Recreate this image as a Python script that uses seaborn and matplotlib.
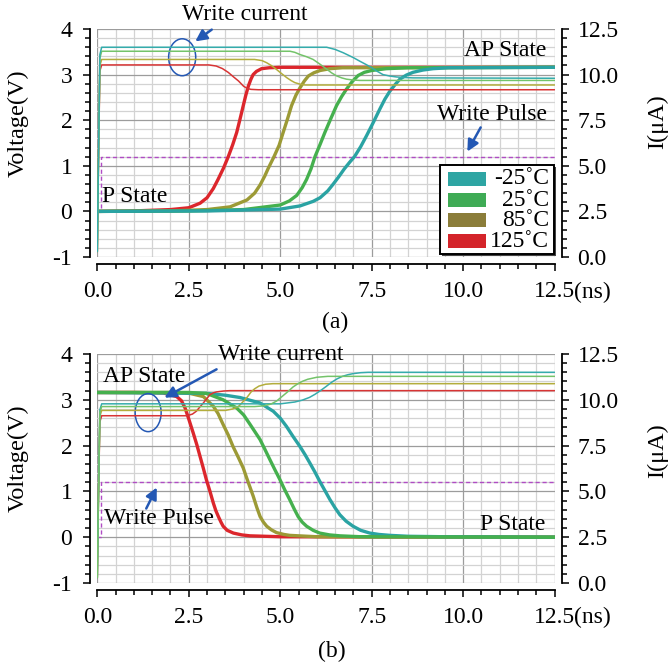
import numpy as np
import pandas as pd
import seaborn as sns
import matplotlib
matplotlib.use("Agg")
import matplotlib.pyplot as plt
from matplotlib.patches import Ellipse, Rectangle
from matplotlib.ticker import MultipleLocator, FormatStrFormatter

# ---------------- data ----------------
temps = ["-25˚C", "25˚C", "85˚C", "125˚C"]

# (a) P -> AP : voltage (V)
t_red_a = [0, 1.0, 2.0, 2.5, 2.81, 3.0, 3.17, 3.3, 3.45, 3.58, 3.7, 3.81, 3.9, 3.99, 4.06, 4.13, 4.2, 4.26, 4.35, 4.49, 4.7, 5.0, 12.5]
v_red_a = [0.0, 0.01, 0.04, 0.08, 0.18, 0.3, 0.5, 0.7, 0.95, 1.2, 1.46, 1.73, 2.02, 2.32, 2.55, 2.75, 2.9, 3.0, 3.07, 3.13, 3.15, 3.16, 3.16]
t_olive_a = [0, 2.0, 3.0, 3.63, 4.09, 4.3, 4.45, 4.58, 4.67, 4.83, 4.97, 5.08, 5.2, 5.31, 5.43, 5.54, 5.66, 5.77, 5.92, 6.09, 6.36, 6.7, 12.5]
v_olive_a = [0.0, 0.01, 0.04, 0.1, 0.25, 0.4, 0.58, 0.78, 0.94, 1.2, 1.45, 1.73, 2.03, 2.32, 2.55, 2.71, 2.86, 2.97, 3.04, 3.09, 3.13, 3.15, 3.16]
t_green_a = [0, 2.5, 4.0, 5.0, 5.25, 5.45, 5.6, 5.72, 5.84, 5.95, 6.09, 6.22, 6.38, 6.54, 6.68, 6.81, 6.97, 7.13, 7.3, 7.5, 7.9, 8.5, 12.5]
v_green_a = [0.0, 0.01, 0.04, 0.14, 0.23, 0.35, 0.52, 0.7, 0.93, 1.2, 1.47, 1.73, 2.03, 2.32, 2.52, 2.68, 2.85, 2.98, 3.05, 3.09, 3.13, 3.15, 3.16]
t_teal_a = [0, 3.0, 5.0, 5.54, 5.9, 6.09, 6.3, 6.45, 6.6, 6.75, 6.9, 7.03, 7.2, 7.36, 7.55, 7.72, 7.86, 8.0, 8.14, 8.27, 8.45, 8.63, 8.9, 9.18, 9.6, 12.5]
v_teal_a = [0.0, 0.01, 0.05, 0.12, 0.22, 0.3, 0.45, 0.6, 0.76, 0.93, 1.08, 1.2, 1.42, 1.66, 1.96, 2.24, 2.46, 2.64, 2.78, 2.9, 2.99, 3.05, 3.1, 3.13, 3.15, 3.16]

# (a) write current (uA)
ti_red_a = [0.0, 0.03, 0.07, 0.12, 3.05, 3.25, 3.42, 3.58, 3.72, 3.86, 4.0, 4.1, 4.2, 4.4, 12.5]
i_red_a = [0.3, 5.0, 10.2, 10.53, 10.53, 10.47, 10.33, 10.12, 9.88, 9.65, 9.36, 9.24, 9.19, 9.17, 9.17]
ti_olive_a = [0.0, 0.03, 0.07, 0.12, 4.3, 4.5, 4.63, 4.77, 4.9, 5.04, 5.18, 5.3, 5.4, 5.55, 5.68, 12.5]
i_olive_a = [0.3, 5.0, 10.5, 10.83, 10.83, 10.77, 10.65, 10.48, 10.28, 10.05, 9.83, 9.67, 9.56, 9.47, 9.43, 9.43]
ti_green_a = [0.0, 0.03, 0.07, 0.12, 5.27, 5.4, 5.54, 5.72, 5.9, 6.08, 6.27, 6.4, 6.54, 6.68, 6.81, 7.0, 7.18, 12.5]
i_green_a = [0.3, 5.0, 10.9, 11.28, 11.28, 11.22, 11.1, 10.98, 10.83, 10.58, 10.3, 10.1, 9.93, 9.82, 9.75, 9.7, 9.68, 9.68]
ti_teal_a = [0.0, 0.03, 0.07, 0.12, 6.27, 6.5, 6.72, 7.0, 7.18, 7.34, 7.5, 7.65, 7.81, 8.0, 8.18, 8.4, 8.63, 12.5]
i_teal_a = [0.3, 5.0, 11.1, 11.5, 11.5, 11.38, 11.2, 10.93, 10.73, 10.56, 10.38, 10.18, 10.0, 9.92, 9.87, 9.84, 9.82, 9.8]

# (b) AP -> P : voltage (V)
t_red_b = [0, 1.0, 1.8, 2.17, 2.3, 2.4, 2.5, 2.62, 2.72, 2.81, 2.9, 2.98, 3.08, 3.17, 3.24, 3.31, 3.38, 3.44, 3.55, 3.72, 3.95, 4.17, 5.0, 12.5]
v_red_b = [3.16, 3.16, 3.15, 3.07, 2.98, 2.82, 2.58, 2.28, 2.02, 1.76, 1.5, 1.26, 1.0, 0.75, 0.58, 0.45, 0.33, 0.24, 0.15, 0.09, 0.05, 0.03, 0.01, 0.0]
t_olive_b = [0, 2.0, 2.53, 2.9, 3.17, 3.3, 3.44, 3.58, 3.71, 3.85, 3.99, 4.08, 4.17, 4.26, 4.36, 4.45, 4.54, 4.63, 4.76, 4.9, 5.1, 5.26, 6.0, 12.5]
v_olive_b = [3.16, 3.16, 3.14, 3.07, 2.86, 2.7, 2.46, 2.23, 1.98, 1.75, 1.51, 1.3, 1.1, 0.9, 0.65, 0.45, 0.33, 0.24, 0.16, 0.1, 0.06, 0.04, 0.01, 0.0]
t_green_b = [0, 2.5, 2.98, 3.44, 3.81, 4.0, 4.17, 4.31, 4.45, 4.58, 4.72, 4.85, 4.99, 5.12, 5.26, 5.38, 5.49, 5.6, 5.72, 5.9, 6.08, 6.35, 6.63, 7.2, 12.5]
v_green_b = [3.16, 3.16, 3.14, 3.0, 2.82, 2.67, 2.47, 2.3, 2.13, 1.92, 1.69, 1.48, 1.26, 1.04, 0.82, 0.62, 0.45, 0.33, 0.24, 0.15, 0.09, 0.05, 0.03, 0.01, 0.0]
t_teal_b = [0, 3.0, 3.5, 3.9, 4.45, 4.81, 5.0, 5.17, 5.35, 5.54, 5.68, 5.81, 5.95, 6.08, 6.22, 6.36, 6.5, 6.63, 6.8, 6.99, 7.2, 7.45, 7.7, 8.0, 8.5, 9.5, 12.5]
v_teal_b = [3.16, 3.14, 3.1, 3.05, 2.93, 2.75, 2.6, 2.42, 2.2, 1.98, 1.8, 1.62, 1.42, 1.22, 1.02, 0.82, 0.64, 0.49, 0.35, 0.24, 0.15, 0.09, 0.06, 0.04, 0.02, 0.01, 0.0]

# (b) write current (uA)
ti_red_b = [0.0, 0.03, 0.07, 0.12, 2.45, 2.6, 2.71, 2.8, 2.9, 3.0, 3.08, 3.17, 3.26, 3.45, 3.62, 12.5]
i_red_b = [0.3, 4.5, 8.8, 9.13, 9.13, 9.22, 9.38, 9.6, 9.83, 10.08, 10.28, 10.38, 10.43, 10.48, 10.5, 10.5]
ti_olive_b = [0.0, 0.03, 0.07, 0.12, 3.5, 3.7, 3.85, 4.0, 4.1, 4.2, 4.3, 4.42, 4.6, 4.8, 12.5]
i_olive_b = [0.3, 4.5, 9.1, 9.42, 9.42, 9.5, 9.62, 9.93, 10.15, 10.42, 10.6, 10.75, 10.85, 10.88, 10.88]
ti_green_b = [0.0, 0.03, 0.07, 0.12, 4.3, 4.55, 4.75, 4.9, 5.05, 5.2, 5.35, 5.5, 5.62, 5.75, 6.0, 6.3, 12.5]
i_green_b = [0.3, 4.5, 9.3, 9.63, 9.63, 9.67, 9.77, 9.93, 10.18, 10.43, 10.7, 10.9, 11.02, 11.12, 11.23, 11.28, 11.28]
ti_teal_b = [0.0, 0.03, 0.07, 0.12, 5.0, 5.4, 5.6, 5.8, 5.95, 6.1, 6.25, 6.4, 6.55, 6.7, 6.85, 7.0, 7.2, 7.4, 12.5]
i_teal_b = [0.3, 4.5, 9.45, 9.78, 9.78, 9.88, 9.98, 10.13, 10.3, 10.5, 10.72, 10.95, 11.14, 11.28, 11.37, 11.43, 11.48, 11.5, 11.5]

# write pulse (V)
t_pulse = [0.0, 0.1, 0.1, 12.5]
v_pulse = [0.0, 0.0, 1.2, 1.2]

x_ticks = [0.0, 2.5, 5.0, 7.5, 10.0, 12.5]
v_ticks = [-1, 0, 1, 2, 3, 4]
i_ticks = [0.0, 2.5, 5.0, 7.5, 10.0, 12.5]

# ---------------- styling ----------------
sns.set_style("white")
plt.rcParams["font.family"] = "serif"
plt.rcParams["font.serif"] = ["Liberation Serif", "DejaVu Serif"]
plt.rcParams["axes.unicode_minus"] = False
for k in ["text.color", "axes.labelcolor", "xtick.color", "ytick.color", "axes.edgecolor"]:
    plt.rcParams[k] = "black"

FS = 17
C_THICK = {"teal": "#2aa3a3", "green": "#45b04e", "olive": "#9c9a36", "red": "#dc262c"}
C_THIN = {"teal": "#35acac", "green": "#74c36a", "olive": "#b3ad3c", "red": "#d83434"}
C_LEG = {"teal": "#2ea5a3", "green": "#3fab55", "olive": "#8b7d3a", "red": "#d4242a"}
BLUE = "#2458b4"
PURPLE = "#b04cc4"

W, H = 669, 665
fig = plt.figure(figsize=(W / 100, H / 100), dpi=100)


def fx(px):
    return px / W


def fy(py):
    return 1 - py / H


def make_axes(top, bottom):
    ax = fig.add_axes([fx(97.3), fy(bottom), (554.6 - 97.3) / W, (bottom - top) / H])
    ax2 = ax.twinx()
    ax.set_xlim(0, 12.5)
    ax.set_ylim(-1, 4)
    ax2.set_ylim(0, 12.5)
    ax.set_xticks(x_ticks)
    ax.set_yticks(v_ticks)
    ax2.set_yticks(i_ticks)
    ax.xaxis.set_minor_locator(MultipleLocator(0.5))
    ax.yaxis.set_minor_locator(MultipleLocator(0.2))
    ax2.yaxis.set_minor_locator(MultipleLocator(0.5))
    ax.xaxis.set_major_formatter(FormatStrFormatter("%.1f"))
    ax.yaxis.set_major_formatter(FormatStrFormatter("%d"))
    ax2.yaxis.set_major_formatter(FormatStrFormatter("%.1f"))
    ax.grid(True, which="major", color="#9c9c9c", lw=0.9)
    ax.grid(True, which="minor", color="#d3d3d3", lw=0.9)
    ax2.grid(False)
    ax.set_axisbelow(True)
    for s in ["top", "right"]:
        ax.spines[s].set_visible(False)
    for s in ["top", "left", "bottom"]:
        ax2.spines[s].set_visible(False)
    ax.spines["left"].set_position(("outward", 5))
    ax.spines["bottom"].set_position(("outward", 5))
    ax2.spines["right"].set_position(("outward", 5.5))
    for sp in [ax.spines["left"], ax.spines["bottom"], ax2.spines["right"]]:
        sp.set_linewidth(1.3)
        sp.set_color("black")
    ax.tick_params(axis="both", which="both", direction="out", bottom=True, left=True,
                   top=False, right=False, width=1.1, color="black")
    ax.tick_params(which="major", length=5, labelsize=FS)
    ax.tick_params(which="minor", length=3.5)
    ax.tick_params(axis="x", pad=7)
    ax.tick_params(axis="y", pad=8)
    ax2.tick_params(axis="y", which="both", direction="out", right=True, left=False,
                    width=1.1, color="black")
    ax2.tick_params(which="major", length=5, labelsize=FS, pad=6)
    ax2.tick_params(which="minor", length=3.5)
    ax.patch.set_facecolor("white")
    return ax, ax2


def draw(ax, ax2, volt, curr, order):
    sns.lineplot(x=t_pulse, y=v_pulse, ax=ax, color=PURPLE, lw=1.0,
                 estimator=None, sort=False, linestyle=(0, (3, 2)))
    for key in order:
        t, v = volt[key]
        sns.lineplot(x=t, y=v, ax=ax, color=C_THICK[key], lw=2.4, estimator=None, sort=False)
    for key in order:
        t, i = curr[key]
        sns.lineplot(x=t, y=i, ax=ax2, color=C_THIN[key], lw=1.1, estimator=None, sort=False)
    ax.set_xlim(0, 12.5)
    ax.set_ylim(-1, 4)
    ax2.set_ylim(0, 12.5)
    ax.set_xlabel("")
    ax.set_ylabel("")
    ax2.set_ylabel("")


ax_a, ax2_a = make_axes(29, 257)
ax_b, ax2_b = make_axes(354, 583)

draw(ax_a, ax2_a,
     {"red": (t_red_a, v_red_a), "olive": (t_olive_a, v_olive_a),
      "green": (t_green_a, v_green_a), "teal": (t_teal_a, v_teal_a)},
     {"red": (ti_red_a, i_red_a), "olive": (ti_olive_a, i_olive_a),
      "green": (ti_green_a, i_green_a), "teal": (ti_teal_a, i_teal_a)},
     ["red", "olive", "green", "teal"])
draw(ax_b, ax2_b,
     {"red": (t_red_b, v_red_b), "olive": (t_olive_b, v_olive_b),
      "green": (t_green_b, v_green_b), "teal": (t_teal_b, v_teal_b)},
     {"red": (ti_red_b, i_red_b), "olive": (ti_olive_b, i_olive_b),
      "green": (ti_green_b, i_green_b), "teal": (ti_teal_b, i_teal_b)},
     ["red", "olive", "teal", "green"])

# ellipses (write current markers)
ax_a.add_patch(Ellipse((2.32, 3.38), 0.74, 0.81, fill=False, ec=BLUE, lw=1.1, zorder=5))
ax_b.add_patch(Ellipse((1.39, 2.72), 0.71, 0.83, fill=False, ec=BLUE, lw=1.1, zorder=5))


def ftext(px, py, s, ha="center", va="center", rot=0, size=FS):
    return fig.text(fx(px), fy(py), s, ha=ha, va=va, rotation=rot, fontsize=size)


def farrow(tail, tip):
    fig.add_artist(matplotlib.patches.FancyArrowPatch(
        (fx(tail[0]), fy(tail[1])), (fx(tip[0]), fy(tip[1])), transform=fig.transFigure,
        arrowstyle="-|>", mutation_scale=17, color=BLUE, lw=1.8, zorder=6))


# panel (a) annotations
ftext(245, 15, "Write current")
farrow((214, 28), (193, 43))
ftext(546, 50, "AP State", ha="right")
ftext(547, 114, "Write Pulse", ha="right")
farrow((482, 125), (466, 154))
ftext(102, 196, "P State", ha="left")

# panel (b) annotations
ftext(218, 355, "Write current", ha="left")
farrow((219, 368), (162, 399))
ftext(103, 377, "AP State", ha="left")
ftext(104, 518, "Write Pulse", ha="left")
farrow((145, 511), (158, 485))
ftext(545, 524, "P State", ha="right")

# axis titles
ftext(18, 123, "Voltage(V)", rot=90, size=17.5)
ftext(18, 458, "Voltage(V)", rot=90, size=17.5)
ftext(658, 122, "I(μA)", rot=90, size=17.5)
ftext(658, 451, "I(μA)", rot=90, size=17.5)
ftext(574, 292, "(ns)", ha="left")
ftext(574, 617, "(ns)", ha="left")
ftext(335, 322, "(a)")
ftext(332, 651, "(b)")

# legend for panel (a)
fig.add_artist(Rectangle((fx(442), fy(256)), 114 / W, 89 / H, transform=fig.transFigure,
                         fc="#444444", ec="none", zorder=4))
fig.add_artist(Rectangle((fx(440), fy(254)), 114 / W, 89 / H, transform=fig.transFigure,
                         fc="white", ec="black", lw=1.4, zorder=4.5))
rows_y = [179, 200, 220, 241]
for key, lab, ry in zip(["teal", "green", "olive", "red"], temps, rows_y):
    fig.add_artist(Rectangle((fx(448), fy(ry + 7)), 38 / W, 14 / H, transform=fig.transFigure,
                             fc=C_LEG[key], ec="none", zorder=5))
    tx = ftext(549, ry, lab, ha="right")
    tx.set_zorder(6)

fig.savefig("out.png", dpi=100)
